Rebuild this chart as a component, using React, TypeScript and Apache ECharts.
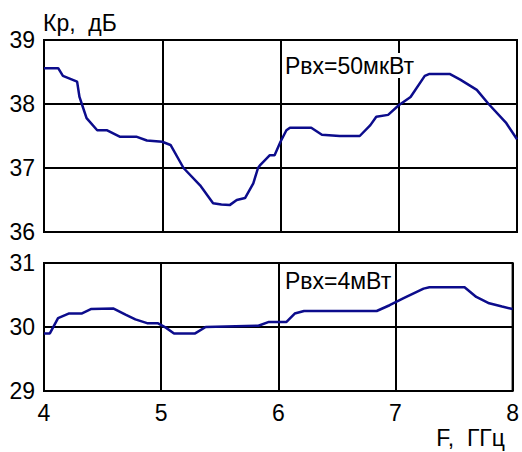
import React, { useEffect, useRef } from "react";
import * as echarts from "echarts";

const freqTop = [4.0, 4.12, 4.16, 4.28, 4.30, 4.32, 4.36, 4.45, 4.53, 4.64, 4.78, 4.87, 5.0, 5.07, 5.18, 5.32, 5.43, 5.50, 5.57, 5.63, 5.70, 5.77, 5.81, 5.83, 5.91, 5.95, 6.0, 6.05, 6.08, 6.26, 6.35, 6.50, 6.67, 6.76, 6.81, 6.91, 7.0, 7.10, 7.22, 7.26, 7.43, 7.52, 7.66, 7.76, 7.91, 8.0];
const gainTop = [38.56, 38.56, 38.44, 38.35, 38.11, 38.0, 37.78, 37.59, 37.59, 37.49, 37.49, 37.43, 37.41, 37.36, 37.0, 36.73, 36.45, 36.43, 36.42, 36.5, 36.53, 36.76, 37.0, 37.05, 37.2, 37.2, 37.41, 37.59, 37.63, 37.63, 37.52, 37.5, 37.5, 37.67, 37.8, 37.83, 37.98, 38.11, 38.44, 38.47, 38.47, 38.38, 38.22, 38.0, 37.70, 37.45];

const freqBottom = [4.0, 4.05, 4.12, 4.21, 4.32, 4.40, 4.59, 4.70, 4.78, 4.88, 4.97, 5.04, 5.11, 5.29, 5.38, 5.83, 5.92, 6.07, 6.14, 6.22, 6.84, 6.95, 7.07, 7.24, 7.29, 7.59, 7.69, 7.80, 7.91, 8.0];
const gainBottom = [29.9, 29.9, 30.14, 30.21, 30.21, 30.28, 30.29, 30.19, 30.12, 30.06, 30.06, 29.99, 29.9, 29.9, 30.0, 30.02, 30.08, 30.08, 30.21, 30.25, 30.25, 30.34, 30.45, 30.6, 30.62, 30.62, 30.47, 30.37, 30.32, 30.28];

const yTitle = "Кр,  дБ";
const xTitle = "F,  ГГц";
const labelTop = "Рвх=50мкВт";
const labelBottom = "Рвх=4мВт";

const FONT = "'Liberation Sans', Arial, sans-serif";
const FS = 23;
const LINE = "#0c0c8c";

export default function App() {
  const ref = useRef<HTMLDivElement>(null);
  useEffect(() => {
    if (!ref.current) return;
    const chart = echarts.init(ref.current, undefined, { renderer: "svg" });
    const axisCommon = {
      type: "value" as const,
      axisTick: { show: false },
      axisLine: { show: false },
      splitLine: { show: true, lineStyle: { color: "#000", width: 2 } },
    };
    chart.setOption({
      animation: false,
      backgroundColor: "#fff",
      grid: [
        { left: 44, top: 40, width: 473, height: 192, show: true, borderColor: "#000", borderWidth: 2, backgroundColor: "transparent" },
        { left: 44, top: 263, width: 473, height: 128, show: true, borderColor: "#000", borderWidth: 2, backgroundColor: "transparent" },
      ],
      xAxis: [
        { ...axisCommon, gridIndex: 0, min: 4, max: 8, interval: 1, axisLabel: { show: false } },
        { ...axisCommon, gridIndex: 1, min: 4, max: 8, interval: 1, axisLabel: { show: true, fontSize: FS, color: "#000", fontFamily: FONT, margin: 10 } },
      ],
      yAxis: [
        { ...axisCommon, gridIndex: 0, min: 36, max: 39, interval: 1, axisLabel: { fontSize: FS, color: "#000", fontFamily: FONT, margin: 9 } },
        { ...axisCommon, gridIndex: 1, min: 29, max: 31, interval: 1, axisLabel: { fontSize: FS, color: "#000", fontFamily: FONT, margin: 9 } },
      ],
      series: [
        {
          type: "line", xAxisIndex: 0, yAxisIndex: 0, showSymbol: false, z: 3,
          lineStyle: { color: LINE, width: 2.5 },
          data: freqTop.map((f, i) => [f, gainTop[i]]),
        },
        {
          type: "line", xAxisIndex: 1, yAxisIndex: 1, showSymbol: false, z: 3,
          lineStyle: { color: LINE, width: 2.5 },
          data: freqBottom.map((f, i) => [f, gainBottom[i]]),
        },
      ],
      graphic: [
        { type: "text", left: 43, top: 11, style: { text: yTitle, fontSize: FS, fontFamily: FONT, fill: "#000" } },
        { type: "text", right: 17, top: 426, style: { text: xTitle, fontSize: FS, fontFamily: FONT, fill: "#000" } },
        { type: "text", left: 284, top: 53, z: 10, style: { text: labelTop, fontSize: FS, fontFamily: FONT, fill: "#000", backgroundColor: "#fff", padding: [1, 1] } },
        { type: "text", left: 284, top: 268, z: 10, style: { text: labelBottom, fontSize: FS, fontFamily: FONT, fill: "#000", backgroundColor: "#fff", padding: [1, 1] } },
      ],
    });
    return () => chart.dispose();
  }, []);
  return <div ref={ref} style={{ position: "absolute", left: 0, top: 0, width: 522, height: 452 }} />;
}
